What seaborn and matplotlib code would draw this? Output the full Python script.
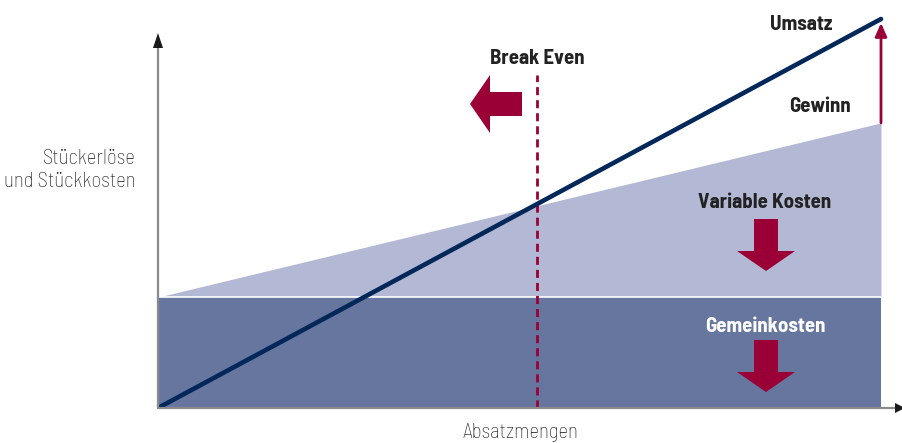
import numpy as np
import pandas as pd
import matplotlib
matplotlib.use("Agg")
import matplotlib.pyplot as plt
import seaborn as sns
from matplotlib.patches import Polygon

# ---- data (units: quantity 0..100, value 0..100) ----
quantity = [0, 100]
umsatz = [0, 100]
fixkosten = [28.5, 28.5]
gesamtkosten = [28.5, 73.3]
break_even = 52.4

sns.set_style("white")
plt.rcParams['font.family'] = ['Barlow Semi Condensed', 'Barlow Condensed', 'DejaVu Sans']

W, H = 902, 443
fig = plt.figure(figsize=(W / 100, H / 100), dpi=100)
ax = fig.add_axes([158 / W, 35 / H, (W - 158) / W, (408 - 5) / H])
ax.set_xlim(0, 744 / 7.23)
ax.set_ylim(0, 403 / 3.89)
ax.axis('off')

c_var = '#b3b8d4'
c_fix = '#66769f'
c_line = '#02285a'
c_red = '#9a0036'
c_text = '#222222'

def px(xp, yp):
    return ((xp - 158) / 7.23, (408 - yp) / 3.89)

ax.fill_between(quantity, fixkosten, gesamtkosten, color=c_var, lw=0, zorder=1)
ax.fill_between(quantity, 0, fixkosten, color=c_fix, lw=0, zorder=1)
ax.plot(quantity, fixkosten, color='white', lw=1.2, zorder=2)

ax.plot([break_even, break_even], [0, 85.6], color=c_red, lw=2,
        dashes=(2.9, 1.8), zorder=3)

df = pd.DataFrame({'x': quantity, 'y': umsatz})
sns.lineplot(data=df, x='x', y='y', ax=ax, color=c_line, lw=3.3, zorder=4,
             solid_capstyle='round')
ax.set_xlabel(''); ax.set_ylabel('')

# axes lines (gray) with black heads
ax.plot(*zip(px(158, 408), px(896, 408)), color='#8a8a8a', lw=1.6, zorder=5, clip_on=False)
ax.plot(*zip(px(158, 408), px(158, 47)), color='#8a8a8a', lw=1.6, zorder=5, clip_on=False)
for tri in ([(153, 48), (163, 48), (158, 33)], [(895, 403), (895, 413), (905, 408)]):
    ax.add_patch(Polygon([px(*p) for p in tri], closed=True, color='#1a1a1a', lw=0,
                         zorder=6, clip_on=False))

ax.annotate('', xy=(100, 99.0), xytext=(100, gesamtkosten[1]),
            arrowprops=dict(arrowstyle='-|>,head_length=0.8,head_width=0.35',
                            color=c_red, lw=2, shrinkA=0, shrinkB=0),
            annotation_clip=False, zorder=5)

def block_arrow(pts):
    poly = Polygon([px(*p) for p in pts], closed=True, color=c_red, lw=0, zorder=6)
    ax.add_patch(poly)

block_arrow([(522, 92), (490, 92), (490, 75), (470, 104), (490, 133), (490, 116), (522, 116)])
def down(cx, ytop, ybody, ytip):
    block_arrow([(cx - 12, ytop), (cx + 12, ytop), (cx + 12, ybody), (cx + 29, ybody),
                 (cx, ytip), (cx - 29, ybody), (cx - 12, ybody)])
down(766, 219, 251, 271)
down(766, 340, 372, 392)

bs = 15
bold = dict(fontweight='bold', fontsize=bs, color=c_text, ha='center', va='center')
ax.text(*px(801, 25), 'Umsatz', **bold)
ax.text(*px(820, 106), 'Gewinn', **bold)
ax.text(*px(537, 58), 'Break Even', **bold)
ax.text(*px(765, 202), 'Variable Kosten', **bold)
ax.text(*px(765, 327), 'Gemeinkosten', fontweight='bold', fontsize=bs,
        color='white', ha='center', va='center')
fig.text(136 / W, 1 - 170 / H, 'Stückerlöse\nund Stückkosten', ha='right', va='center',
         fontsize=15, color='#1e1e1e', linespacing=1.25, fontweight='light')
fig.text(520 / W, 1 - 433 / H, 'Absatzmengen', ha='center', va='center',
         fontsize=15, color='#1e1e1e', fontweight='light')

fig.savefig('out.png', dpi=100)
